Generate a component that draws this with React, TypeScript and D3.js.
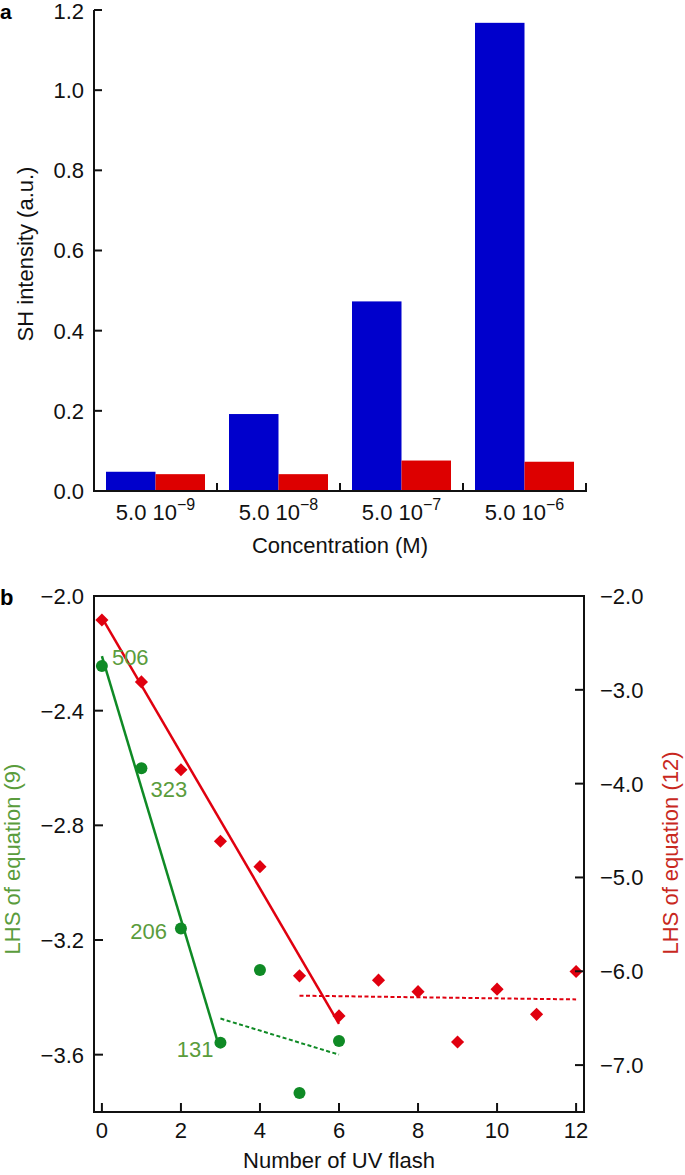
import React from "react";
import * as d3 from "d3";

// ---------- Panel a data ----------
const concentrationExponents = ["−9", "−8", "−7", "−6"];
const concentrationBase = "5.0 10";
const blueIntensity = [0.048, 0.192, 0.473, 1.168];
const redIntensity = [0.042, 0.042, 0.076, 0.073];
const topYTicks = [0, 0.2, 0.4, 0.6, 0.8, 1.0, 1.2];

// ---------- Panel b data ----------
const greenFlash = [0, 1, 2, 3, 4, 5, 6];
const greenLhs = [-2.244, -2.601, -3.16, -3.558, -3.305, -3.734, -3.552];
const redFlash = [0, 1, 2, 3, 4, 5, 6, 7, 8, 9, 10, 11, 12];
const redLhs = [-2.256, -2.916, -3.852, -4.614, -4.885, -6.049, -6.476, -6.095, -6.217, -6.754, -6.191, -6.459, -6.003];
const greenFitX = [0, 2.92];
const greenFitY = [-2.21, -3.55];
const greenDashX = [3, 6];
const greenDashY = [-3.474, -3.6];
const redFitX = [0, 6];
const redFitY = [-2.23, -6.56];
const redDashX = [5, 12];
const redDashY = [-6.26, -6.3];
const greenLabels = ["506", "323", "206", "131"];
const bottomXTicks = [0, 2, 4, 6, 8, 10, 12];
const leftYTicks = [-2.0, -2.4, -2.8, -3.2, -3.6];
const rightYTicks = [-2.0, -3.0, -4.0, -5.0, -6.0, -7.0];

const FONT = "'Liberation Sans', Arial, Helvetica, sans-serif";
const FS = 22;
const BLUE = "#0000cc";
const RED_BAR = "#dd0000";
const GREEN = "#0f8a25";
const GREEN_TXT = "#5a9c3c";
const RED = "#e0000f";
const RED_TXT = "#c8281e";
const fmtMinus = (v: number) => d3.format(".1f")(v).replace("-", "−");

export default function App() {
  // ----- panel a scales -----
  const xGroup = d3.scaleBand<string>().domain(concentrationExponents).range([94, 586]);
  const bw = xGroup.bandwidth();
  const xSub = d3.scaleBand<string>().domain(["blue", "red"]).range([12, bw - 12]);
  const yTop = d3.scaleLinear().domain([0, 1.2]).range([491, 10]);

  // ----- panel b scales -----
  const xB = d3.scaleLinear().domain([-0.2, 12.2]).range([94, 584]);
  const yL = d3.scaleLinear().domain([-3.8, -2.0]).range([1112, 596]);
  const yR = d3.scaleLinear().domain([-7.5, -2.0]).range([1112, 596]);

  const lineL = d3.line<[number, number]>().x((d) => xB(d[0])).y((d) => yL(d[1]));
  const lineR = d3.line<[number, number]>().x((d) => xB(d[0])).y((d) => yR(d[1]));
  const zip = (a: number[], b: number[]) => a.map((v, i) => [v, b[i]] as [number, number]);

  const diamond = d3.symbol().type(d3.symbolDiamond2).size(110)();

  const labelOffsets = [
    { dx: 10, dy: -1, anchor: "start" },
    { dx: 9, dy: 29, anchor: "start" },
    { dx: -14, dy: 10, anchor: "end" },
    { dx: -7, dy: 14, anchor: "end" },
  ];

  return (
    <div style={{ position: "absolute", left: 0, top: 0 }}>
      <svg width={685} height={1175} style={{ display: "block", fontFamily: FONT }}>
        <rect width={685} height={1175} fill="#fff" />
        {/* ================= Panel a ================= */}
        <text x={0} y={19} fontSize={21} fontWeight="bold">a</text>
        {/* bars */}
        {concentrationExponents.map((c, i) => (
          <g key={c}>
            <rect
              x={(xGroup(c) as number) + (xSub("blue") as number)}
              y={yTop(blueIntensity[i])}
              width={xSub.bandwidth()}
              height={yTop(0) - yTop(blueIntensity[i])}
              fill={BLUE}
            />
            <rect
              x={(xGroup(c) as number) + (xSub("red") as number)}
              y={yTop(redIntensity[i])}
              width={xSub.bandwidth()}
              height={yTop(0) - yTop(redIntensity[i])}
              fill={RED_BAR}
            />
          </g>
        ))}
        {/* y axis */}
        <line x1={94} x2={94} y1={yTop(1.2)} y2={yTop(0)} stroke="#111" strokeWidth={2} />
        {topYTicks.map((t) => (
          <g key={t}>
            <line x1={94} x2={102} y1={yTop(t)} y2={yTop(t)} stroke="#111" strokeWidth={2} />
            <text x={84} y={yTop(t) + (t === 1.2 ? 1 : 0)} dy="0.36em" textAnchor="end" fontSize={FS} fill="#111">
              {t.toFixed(1)}
            </text>
          </g>
        ))}
        {/* x axis */}
        <line x1={93} x2={587} y1={yTop(0)} y2={yTop(0)} stroke="#111" strokeWidth={2} />
        {concentrationExponents.map((c) => (
          <line
            key={"t" + c}
            x1={(xGroup(c) as number) + bw}
            x2={(xGroup(c) as number) + bw}
            y1={yTop(0)}
            y2={yTop(0) - 8}
            stroke="#111"
            strokeWidth={2}
          />
        ))}
        {concentrationExponents.map((c) => (
          <text
            key={"l" + c}
            x={(xGroup(c) as number) + bw / 2}
            y={520}
            textAnchor="middle"
            fontSize={FS}
            fill="#111"
          >
            {concentrationBase}
            <tspan fontSize={16} dy={-10}>{c}</tspan>
          </text>
        ))}
        <text x={340} y={553} textAnchor="middle" fontSize={FS} fill="#111">
          Concentration (M)
        </text>
        <text
          transform={`translate(33, 254) rotate(-90)`}
          textAnchor="middle"
          fontSize={FS}
          fill="#111"
        >
          SH intensity (a.u.)
        </text>

        {/* ================= Panel b ================= */}
        <text x={0} y={605} fontSize={22} fontWeight="bold">b</text>

        {/* fit lines */}
        <path d={lineL(zip(greenFitX, greenFitY)) as string} stroke={GREEN} strokeWidth={2.5} fill="none" />
        <path
          d={lineL(zip(greenDashX, greenDashY)) as string}
          stroke={GREEN}
          strokeWidth={2}
          strokeDasharray="4 2.5"
          fill="none"
        />
        <path d={lineR(zip(redFitX, redFitY)) as string} stroke={RED} strokeWidth={2.5} fill="none" />
        <path
          d={lineR(zip(redDashX, redDashY)) as string}
          stroke={RED}
          strokeWidth={2}
          strokeDasharray="4 2.5"
          fill="none"
        />

        {/* points */}
        {greenFlash.map((f, i) => (
          <circle key={"g" + f} cx={xB(f)} cy={yL(greenLhs[i])} r={6} fill={GREEN} />
        ))}
        {redFlash.map((f, i) => (
          <path key={"r" + f} d={diamond as string} transform={`translate(${xB(f)},${yR(redLhs[i])})`} fill={RED} />
        ))}

        {/* point labels */}
        {greenLabels.map((lab, i) => (
          <text
            key={lab}
            x={xB(greenFlash[i]) + labelOffsets[i].dx}
            y={yL(greenLhs[i]) + labelOffsets[i].dy}
            textAnchor={labelOffsets[i].anchor as any}
            fontSize={FS}
            fill={GREEN_TXT}
          >
            {lab}
          </text>
        ))}

        {/* frame */}
        <rect x={94} y={596} width={490} height={516} fill="none" stroke="#111" strokeWidth={2} />

        {/* left axis */}
        {leftYTicks.map((t) => (
          <g key={"L" + t}>
            <line x1={94} x2={103} y1={yL(t)} y2={yL(t)} stroke="#111" strokeWidth={2} />
            <text x={84} y={yL(t)} dy="0.36em" textAnchor="end" fontSize={FS} fill="#111">
              {fmtMinus(t)}
            </text>
          </g>
        ))}
        {/* right axis */}
        {rightYTicks.map((t) => (
          <g key={"R" + t}>
            <line x1={584} x2={575} y1={yR(t)} y2={yR(t)} stroke="#111" strokeWidth={2} />
            <text x={600} y={yR(t)} dy="0.36em" textAnchor="start" fontSize={FS} fill="#111">
              {fmtMinus(t)}
            </text>
          </g>
        ))}
        {/* bottom axis */}
        {bottomXTicks.map((t) => (
          <g key={"B" + t}>
            <line x1={xB(t)} x2={xB(t)} y1={1112} y2={1103} stroke="#111" strokeWidth={2} />
            <text x={xB(t)} y={1138} textAnchor="middle" fontSize={FS} fill="#111">
              {t}
            </text>
          </g>
        ))}
        <text x={339} y={1168} textAnchor="middle" fontSize={FS} fill="#111">
          Number of UV flash
        </text>
        <text transform={`translate(20, 859) rotate(-90)`} textAnchor="middle" fontSize={FS} fill={GREEN_TXT}>
          LHS of equation (9)
        </text>
        <text transform={`translate(678, 853) rotate(-90)`} textAnchor="middle" fontSize={FS} fill={RED_TXT}>
          LHS of equation (12)
        </text>
      </svg>
    </div>
  );
}
